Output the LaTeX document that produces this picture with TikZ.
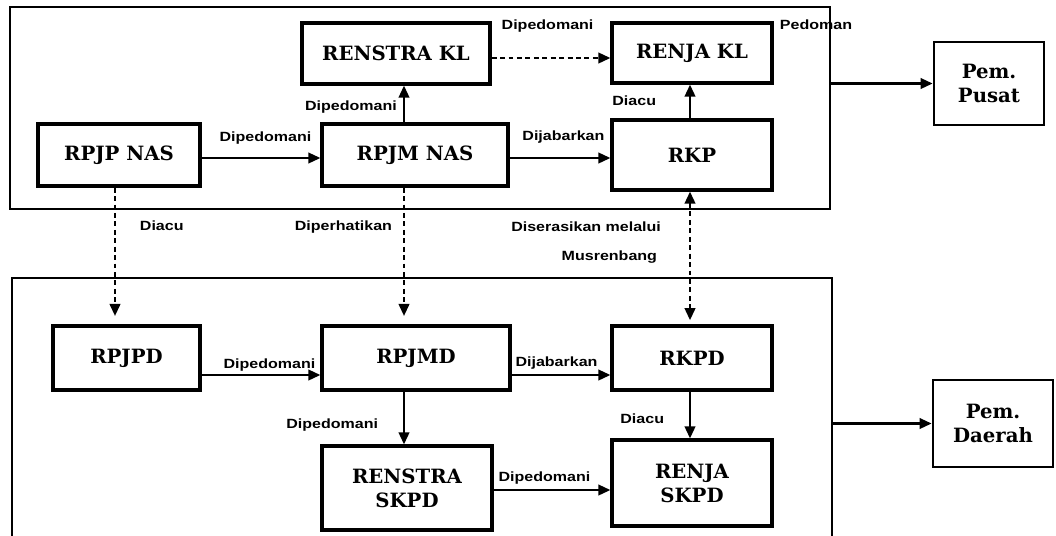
\documentclass[tikz,border=0pt]{standalone}
\usepackage{fontspec}
\setmainfont{DejaVu Serif}
\newfontfamily\lblfont[FakeStretch=1.2]{Liberation Sans}
\usetikzlibrary{arrows.meta, positioning, calc}

\begin{document}
\begin{tikzpicture}[
  x=0.025cm, y=-0.025cm,
  doc/.style={draw, line width=2.3pt, align=center, inner sep=2pt,
              font=\bfseries\fontsize{14}{17}\selectfont},
  govt/.style={doc, line width=2pt},
  frame/.style={draw, line width=1.2pt, inner sep=0pt},
  lbl/.style={font=\lblfont\bfseries\fontsize{9.5}{11}\selectfont, inner sep=0pt},
  arr/.style={-{Triangle[length=8.5pt, width=7.5pt]}, line width=1.5pt},
  darr/.style={arr, dash pattern=on 3.5pt off 2.5pt},
  dboth/.style={darr, {Triangle[length=8.5pt, width=7.5pt]}-{Triangle[length=8.5pt, width=7.5pt]}}
]
  \useasboundingbox (0,0) rectangle (1056,535);

  % containers
  \node[frame, minimum width=20.5cm, minimum height=5.05cm]  (pusat)  at (420,108)   {};
  \node[frame, minimum width=20.5cm, minimum height=6.675cm] (daerah) at (422,411.5) {};

  % rows and columns of the connectors
  \coordinate (rowkl)  at (0,58);
  \coordinate (rowtop) at (0,158);
  \coordinate (rowbot) at (0,375);
  \coordinate (rowsk)  at (0,490);
  \coordinate (colL) at (115,0);
  \coordinate (colM) at (404,0);
  \coordinate (colR) at (690,0);

  % central level
  \node[doc, minimum width=4.7cm,  minimum height=1.525cm] (renstrakl) at (396,53.5) {RENSTRA KL};
  \node[doc, minimum width=4cm,    minimum height=1.5cm]   (renjakl)   at (692,53)   {RENJA KL};
  \node[doc, minimum width=4.05cm, minimum height=1.55cm]  (rpjpnas)   at (119,155)  {RPJP NAS};
  \node[doc, minimum width=4.65cm, minimum height=1.55cm]  (rpjmnas)   at (415,155)  {RPJM NAS};
  \node[doc, minimum width=4cm,    minimum height=1.75cm]  (rkp)       at (692,155)  {RKP};
  \node[govt, minimum width=2.75cm, minimum height=2.075cm] (pempusat) at (989,83.5) {Pem.\\Pusat};

  % regional level
  \node[doc, minimum width=3.675cm, minimum height=1.6cm] (rpjpd)  at (126.5,358) {RPJPD};
  \node[doc, minimum width=4.7cm,   minimum height=1.6cm] (rpjmd)  at (416,358)   {RPJMD};
  \node[doc, minimum width=4cm,     minimum height=1.6cm] (rkpd)   at (692,358)   {RKPD};
  \node[doc, minimum width=4.25cm, minimum height=2.1cm]  (renstraskpd) at (407,488) {RENSTRA\\SKPD};
  \node[doc, minimum width=4cm,    minimum height=2.15cm] (renjaskpd)   at (692,483) {RENJA\\SKPD};
  \node[govt, minimum width=3cm, minimum height=2.175cm] (pemdaerah) at (993,423.5) {Pem.\\Daerah};

  % connectors, central
  \draw[arr] (rpjpnas.east |- rowtop) -- node[lbl, pos=1, anchor=base east, xshift=-5.7pt, yshift=11.7pt] {Dipedomani} (rpjmnas.west |- rowtop);
  \draw[arr] (colM |- rpjmnas.north) -- node[lbl, pos=0, anchor=base east, xshift=-4.3pt, yshift=8.2pt] {Dipedomani} (colM |- renstrakl.south);
  \draw[darr] (renstrakl.east |- rowkl) -- node[lbl, pos=1, anchor=base east, xshift=-11.3pt, yshift=20.2pt] {Dipedomani} (renjakl.west |- rowkl);
  \draw[arr] (rpjmnas.east |- rowtop) -- node[lbl, pos=1, anchor=base east, xshift=-3.5pt, yshift=12.5pt] {Dijabarkan} (rkp.west |- rowtop);
  \draw[arr] (colR |- rkp.north) -- node[lbl, pos=0, anchor=base east, xshift=-23.4pt, yshift=8.9pt] {Diacu} (colR |- renjakl.south);
  \draw[arr] (pusat.east |- pempusat) -- (pempusat.west);
  \node[lbl] (pedoman) at (816,25) {Pedoman};

  % connectors between the levels
  \draw[darr, shorten >=6pt] (colL |- rpjpnas.south) -- node[lbl, pos=0, anchor=base west, xshift=17pt, yshift=-30.8pt] {Diacu} (colL |- rpjpd.north);
  \draw[darr, shorten >=6pt] (colM |- rpjmnas.south) -- node[lbl, pos=0, anchor=base east, xshift=-7.8pt, yshift=-30.8pt] {Diperhatikan} (colM |- rpjmd.north);
  \draw[dboth, shorten >=3pt] (colR |- rkp.south)
    -- node[lbl, pos=0, anchor=base east, xshift=-19.9pt, yshift=-28pt] {Diserasikan melalui}
       node[lbl, pos=0, anchor=base east, xshift=-22.7pt, yshift=-49.3pt] {Musrenbang}
       (colR |- rkpd.north);

  % connectors, regional
  \draw[arr] (rpjpd.east |- rowbot) -- node[lbl, pos=1, anchor=base east, xshift=-2.8pt, yshift=4.6pt] {Dipedomani} (rpjmd.west |- rowbot);
  \draw[arr] (rpjmd.east |- rowbot) -- node[lbl, pos=0, anchor=base west, xshift=2pt, yshift=6pt] {Dijabarkan} (rkpd.west |- rowbot);
  \draw[arr] (colM |- rpjmd.south) -- node[lbl, pos=0, anchor=base east, xshift=-17.7pt, yshift=-25.9pt] {Dipedomani} (colM |- renstraskpd.north);
  \draw[arr] (colR |- rkpd.south) -- node[lbl, pos=0, anchor=base east, xshift=-17.7pt, yshift=-23pt] {Diacu} (colR |- renjaskpd.north);
  \draw[arr] (renstraskpd.east |- rowsk) -- node[lbl, pos=1, anchor=base east, xshift=-13.5pt, yshift=6pt] {Dipedomani} (renjaskpd.west |- rowsk);
  \draw[arr] (daerah.east |- pemdaerah) -- (pemdaerah.west);
\end{tikzpicture}
\end{document}
